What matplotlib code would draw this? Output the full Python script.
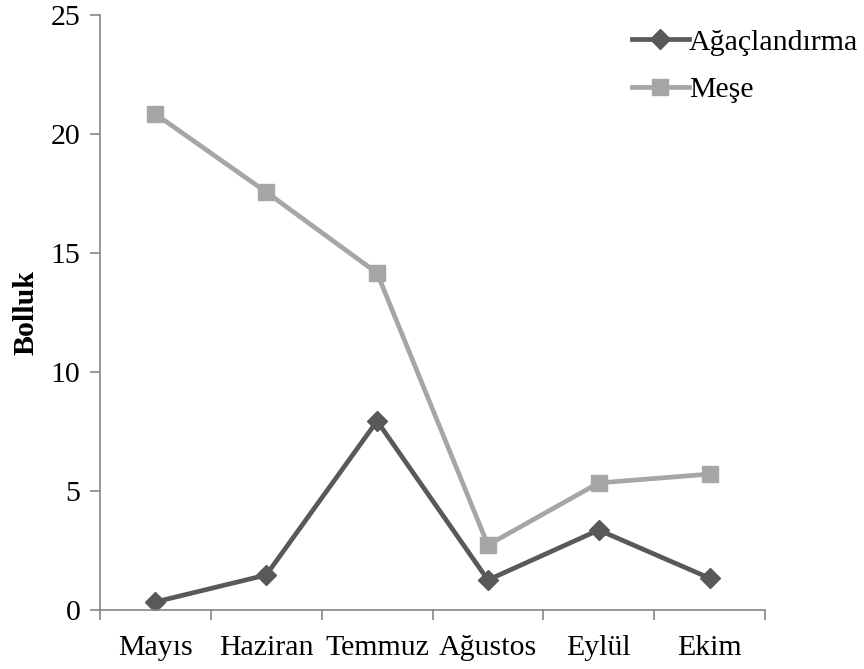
import numpy as np
import matplotlib.pyplot as plt

months = ['Mayıs', 'Haziran', 'Temmuz', 'Ağustos', 'Eylül', 'Ekim']
agaclandirma = [0.34, 1.47, 7.94, 1.26, 3.36, 1.34]
mese = [20.84, 17.56, 14.16, 2.73, 5.34, 5.71]

plt.rcParams['font.family'] = ['Liberation Serif', 'DejaVu Serif']
plt.rcParams['font.size'] = 21.5

fig = plt.figure(figsize=(8.64, 6.69), dpi=100)
ax = fig.add_axes([100 / 864, 59 / 669, 665 / 864, 595 / 669])

x = np.arange(len(months))
ax.plot(x, agaclandirma, color='#595959', lw=3.4, marker='D', ms=10.5,
        label='Ağaçlandırma', solid_joinstyle='round')
ax.plot(x, mese, color='#a6a6a6', lw=3.4, marker='s', ms=12,
        label='Meşe', solid_joinstyle='round')

ax.set_xlim(-0.5, len(months) - 0.5)
ax.set_ylim(0, 25)
ax.set_yticks(range(0, 26, 5))
ax.set_xticks(x)
ax.set_xticklabels(months)
ax.set_xticks(np.arange(-0.5, len(months), 1), minor=True)
ax.tick_params(axis='x', which='major', length=0, pad=18)
ax.tick_params(axis='x', which='minor', length=7, color='#868686', width=1.2)
ax.tick_params(axis='y', length=7, color='#868686', width=1.2, pad=7)

for s in ['top', 'right']:
    ax.spines[s].set_visible(False)
for s in ['left', 'bottom']:
    ax.spines[s].set_color('#868686')
    ax.spines[s].set_linewidth(1.2)

ax.set_ylabel('Bolluk', fontweight='bold', labelpad=8)

ax.legend(loc='upper left', bbox_to_anchor=(632 / 864, 1 - 29 / 669),
          bbox_transform=fig.transFigure, frameon=False, handlelength=1.9,
          handletextpad=0.0, labelspacing=0.68, borderaxespad=0, borderpad=0)

fig.savefig('out.png', dpi=100)
